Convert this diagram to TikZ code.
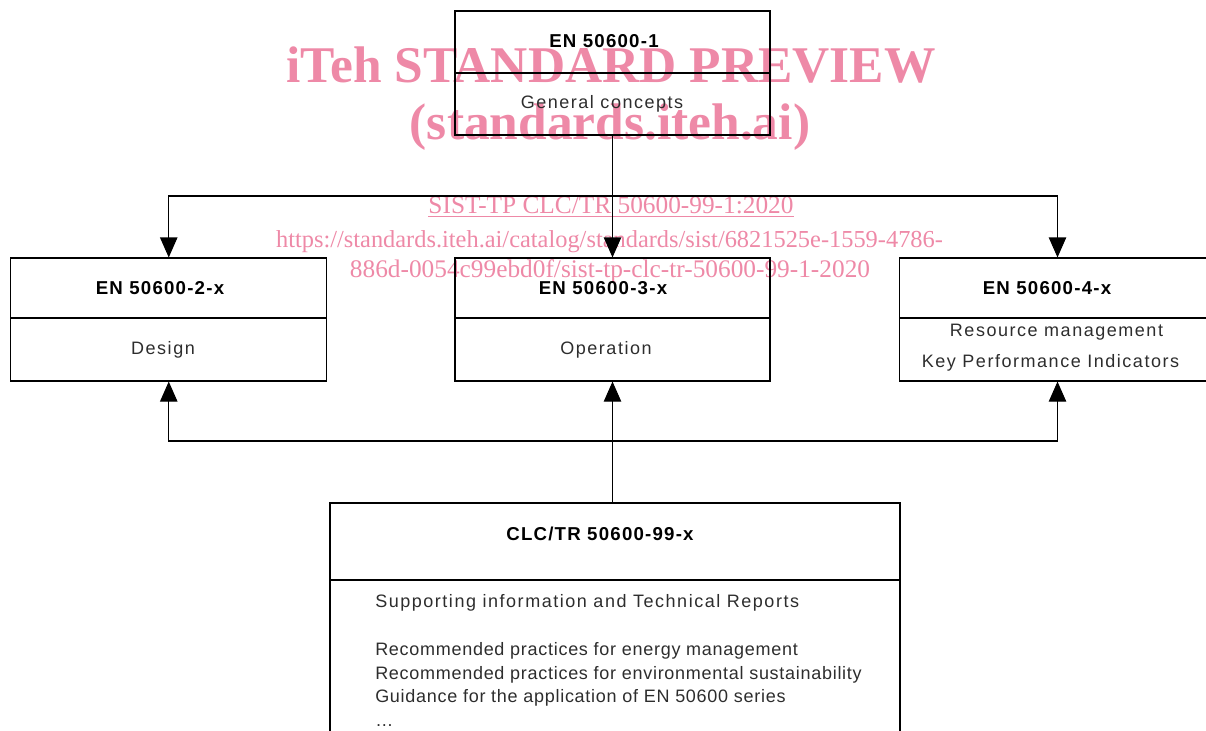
\documentclass[tikz,border=0pt]{standalone}
\usepackage{fontspec}
\setmainfont{Liberation Sans}
\newfontfamily\wmfont{Liberation Serif}
\newfontfamily\titlefont[LetterSpace=6.5]{Liberation Sans}
\newfontfamily\widefont[LetterSpace=8.5]{Liberation Sans}
\newfontfamily\listfont[LetterSpace=4]{Liberation Sans}
\usetikzlibrary{arrows.meta}
\pgfdeclarelayer{marklayer}
\pgfdeclarelayer{edgelayer}
\pgfdeclarelayer{nodelayer}
\pgfsetlayers{marklayer,edgelayer,nodelayer,main}
\definecolor{wmpink}{RGB}{238,137,167}
\definecolor{txtgray}{RGB}{45,45,45}
\tikzstyle{none}=[inner sep=0pt]
\tikzstyle{head}=[rectangle,draw=black,line width=0.8pt,inner sep=0pt,minimum width=237pt,minimum height=45pt]
\tikzstyle{body}=[rectangle,draw=black,line width=0.8pt,inner sep=0pt,minimum width=237pt,minimum height=47.25pt]
\tikzstyle{titletext}=[inner sep=0pt,font=\titlefont\bfseries\fontsize{14}{16}\selectfont]
\tikzstyle{bodytext}=[inner sep=0pt,text=txtgray,font=\widefont\fontsize{13.5}{17.6}\selectfont]
\tikzstyle{listtext}=[inner sep=0pt,anchor=base west,text=txtgray,font=\listfont\fontsize{13.5}{17.6}\selectfont]
\tikzstyle{watermark}=[inner sep=0pt,anchor=base,text=wmpink]
\tikzstyle{transition}=[-{Triangle[length=15pt,width=13pt]},draw=black,line width=0.8pt]

\begin{document}
\begin{tikzpicture}[x=0.75pt,y=-0.75pt]
	\useasboundingbox (0,0) rectangle (1206,731);
	\begin{pgfonlayer}{marklayer}
		\node [style=watermark, font=\wmfont\bfseries\fontsize{38.6}{40}\selectfont] (w1) at (611, 83) {iTeh STANDARD PREVIEW};
		\node [style=watermark, font=\wmfont\bfseries\fontsize{38.6}{40}\selectfont] (w2) at (610, 140) {(standards.iteh.ai)};
		\node [style=watermark, font=\wmfont\fontsize{19}{21}\selectfont] (w3) at (611, 214) {\underline{SIST-TP CLC/TR 50600-99-1:2020}};
		\node [style=watermark, font=\wmfont\fontsize{18.3}{21}\selectfont] (w4) at (609.5, 247) {https://standards.iteh.ai/catalog/standards/sist/6821525e-1559-4786-};
		\node [style=watermark, font=\wmfont\fontsize{19}{21}\selectfont] (w5) at (610, 277) {886d-0054c99ebd0f/sist-tp-clc-tr-50600-99-1-2020};
	\end{pgfonlayer}
	\begin{pgfonlayer}{nodelayer}
		% boxes
		\node [style=head, minimum width=236.25pt, minimum height=46.5pt] (en1h) at (612.5, 42) {};
		\node [style=body, minimum width=236.25pt, minimum height=46.5pt] (en1b) at (612.5, 104) {};
		\node [style=head] (en2h) at (168.75, 288) {};
		\node [style=body] (en2b) at (168.75, 349.5) {};
		\node [style=head, minimum width=236.25pt] (en3h) at (612.5, 288) {};
		\node [style=body, minimum width=236.25pt] (en3b) at (612.5, 349.5) {};
		\node [style=head] (en4h) at (1057.5, 288) {};
		\node [style=body] (en4b) at (1057.5, 349.5) {};
		\node [style=head, minimum width=427.5pt, minimum height=57.75pt] (trh) at (615, 541.5) {};
		\node [style=body, minimum width=427.5pt, minimum height=135pt] (trb) at (615, 670) {};
		% texts
		\node [style=titletext] (t1) at (604, 41) {EN 50600-1};
		\node [style=bodytext] (b1) at (602, 104) {General concepts};
		\node [style=titletext] (t2) at (160, 288) {EN 50600-2-x};
		\node [style=bodytext] (b2) at (163, 350) {Design};
		\node [style=titletext] (t3) at (603, 288) {EN 50600-3-x};
		\node [style=bodytext] (b3) at (606, 350) {Operation};
		\node [style=titletext] (t4) at (1047, 288) {EN 50600-4-x};
		\node [style=bodytext] (b4a) at (1056.5, 332) {Resource management};
		\node [style=bodytext] (b4b) at (1050.5, 363) {Key Performance Indicators};
		\node [style=titletext] (t5) at (600, 534) {CLC/TR 50600-99-x};
		\node [style=bodytext, anchor=base west] (b5a) at (375, 607) {Supporting information and Technical Reports};
		\node [style=listtext] (b5b) at (375, 655) {Recommended practices for energy management};
		\node [style=listtext] (b5c) at (375, 679) {Recommended practices for environmental sustainability};
		\node [style=listtext] (b5d) at (375, 702) {Guidance for the application of EN 50600 series};
		\node [style=listtext] (b5e) at (375, 726) {\dots};
		% junctions
		\node [style=none] (1) at (612.5, 196) {};
		\node [style=none] (2) at (612.5, 441) {};
	\end{pgfonlayer}
	\begin{pgfonlayer}{edgelayer}
		\draw [style=transition] (en1b) to (en3h);
		\draw [style=transition] (1.center) -| (en2h.north);
		\draw [style=transition] (1.center) -| (en4h.north);
		\draw [style=transition] (en3b.south |- trh.north) to (en3b.south);
		\draw [style=transition] (2.center) -| (en2b.south);
		\draw [style=transition] (2.center) -| (en4b.south);
	\end{pgfonlayer}
\end{tikzpicture}
\end{document}
